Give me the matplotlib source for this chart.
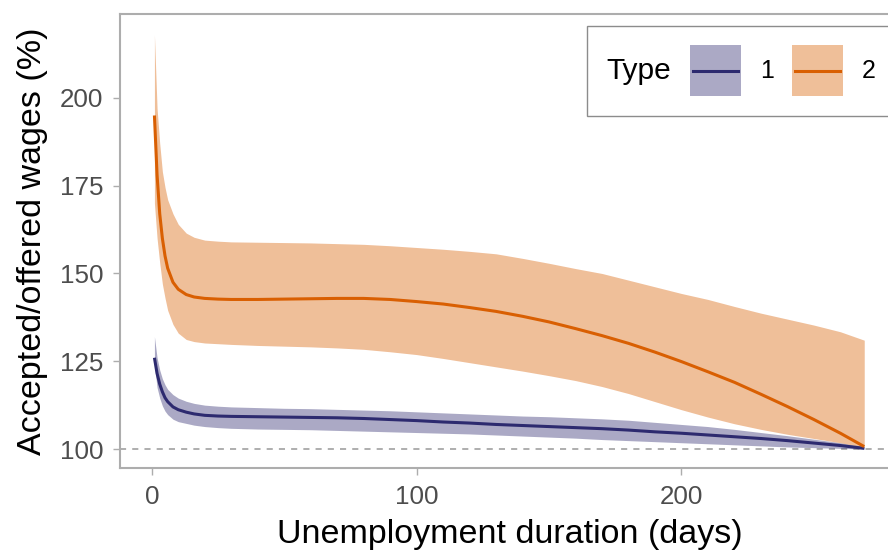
import matplotlib.pyplot as plt
from matplotlib.offsetbox import AnchoredOffsetbox, HPacker, TextArea, DrawingArea
from matplotlib.patches import Rectangle
from matplotlib.lines import Line2D

plt.rcParams['font.family'] = ['Liberation Sans', 'DejaVu Sans']

# Unemployment duration (days)
days = [1, 2, 3, 4, 5, 6, 8, 10, 13, 16, 20, 25, 30, 40, 50, 60, 70, 80, 90, 100,
        110, 120, 130, 140, 150, 160, 170, 180, 190, 200, 210, 220, 230, 240, 250, 260, 269]

# Type 1: mean and band
type1_mean = [126, 121.5, 118.5, 116.3, 114.6, 113.5, 112, 111.2, 110.5, 110, 109.6, 109.4,
              109.3, 109.2, 109.1, 109.0, 108.9, 108.7, 108.4, 108.1, 107.7, 107.4, 107.0,
              106.7, 106.4, 106.1, 105.8, 105.4, 104.9, 104.5, 104.0, 103.5, 103.0, 102.4,
              101.7, 101.0, 100.2]
type1_upper = [132, 126, 122.5, 120, 118.3, 117, 115.5, 114.5, 113.6, 113, 112.5, 112.2,
               112.0, 111.8, 111.6, 111.5, 111.3, 111.1, 110.9, 110.6, 110.3, 110.0, 109.7,
               109.4, 109.2, 108.9, 108.6, 108.2, 107.6, 107.0, 106.4, 105.6, 104.7, 103.8,
               102.8, 101.8, 100.6]
type1_lower = [124, 117.5, 114.5, 112.3, 110.8, 109.8, 108.5, 107.8, 107.3, 106.8, 106.4,
               106.1, 105.9, 105.7, 105.6, 105.5, 105.3, 105.1, 104.9, 104.7, 104.5, 104.3,
               104.0, 103.7, 103.4, 103.1, 102.7, 102.4, 102.1, 101.8, 101.5, 101.2, 100.9,
               100.6, 100.4, 100.2, 100.0]

# Type 2: mean and band
type2_mean = [195, 178, 167, 160, 155, 151.5, 147.5, 145.5, 144, 143.3, 142.9, 142.7, 142.6,
              142.6, 142.7, 142.8, 142.9, 142.9, 142.6, 142.0, 141.3, 140.3, 139.2, 137.8,
              136.2, 134.3, 132.3, 130.1, 127.6, 124.9, 122.0, 119.0, 115.6, 112.1, 108.4,
              104.5, 100.7]
type2_upper = [218, 197, 187, 179, 174.5, 171, 167, 164, 161.5, 160.3, 159.5, 159.2, 159,
               158.9, 158.8, 158.7, 158.5, 158.3, 157.9, 157.4, 156.9, 156.3, 155.6, 154.3,
               152.9, 151.4, 150.0, 148.1, 146.2, 144.3, 142.6, 140.6, 138.7, 137.0, 135.3,
               133.4, 131.0]
type2_lower = [170, 160, 153, 147, 143, 139.5, 135.5, 133, 131.2, 130.6, 130.2, 130, 129.8,
               129.5, 129.3, 129.1, 128.8, 128.4, 127.7, 126.9, 125.8, 124.6, 123.4, 122.2,
               120.9, 119.5, 117.8, 115.8, 113.5, 111.2, 109.1, 107.2, 105.6, 104.2, 103.0,
               101.8, 100.5]

type_labels = ['1', '2']
colors = ['#2D2A6F', '#D95F02']
fill_alpha = 0.4

fig = plt.figure(figsize=(8.88, 5.52), dpi=100)
ax = fig.add_axes([120 / 888, 84 / 552, 780 / 888, 454 / 552])

ax.axhline(100, color='#999999', lw=1.1, ls=(0, (4, 4)), zorder=1)

series = [(type1_mean, type1_upper, type1_lower), (type2_mean, type2_upper, type2_lower)]
for (mean, up, lo), col in zip(series, colors):
    ax.fill_between(days, lo, up, color=col, alpha=fill_alpha, lw=0, zorder=2)
for (mean, up, lo), col in zip(series, colors):
    ax.plot(days, mean, color=col, lw=2.2, zorder=3, solid_capstyle='butt')

ax.set_xlim(-12, 282.5)
ax.set_ylim(94.6, 223.9)
ax.set_xticks([0, 100, 200])
ax.set_yticks([100, 125, 150, 175, 200])

for side in ['left', 'top', 'bottom']:
    ax.spines[side].set_color('#ADADAD')
    ax.spines[side].set_linewidth(1.5)
ax.spines['right'].set_visible(False)
ax.tick_params(colors='#ADADAD', labelcolor='#4D4D4D', labelsize=18.7,
               length=5, width=1, direction='out', pad=7.2)

ax.set_xlabel('Unemployment duration (days)', fontsize=24.5, labelpad=7)
ax.set_ylabel('Accepted/offered wages (%)', fontsize=24.5, labelpad=8.3)

# legend: title on the left, keys in a row
key = 36.7
items = [TextArea('Type', textprops=dict(size=21.5))]
for lab, col in zip(type_labels, colors):
    da = DrawingArea(key, key, 0, 0)
    da.add_artist(Rectangle((0, 0), key, key, facecolor=col, alpha=fill_alpha, lw=0))
    da.add_artist(Line2D([2, key - 2], [key / 2, key / 2], color=col, lw=2.2))
    items.append(da)
    items.append(TextArea(lab, textprops=dict(size=18)))
row = HPacker(children=items, align='center', pad=14, sep=13.5)
box = AnchoredOffsetbox(loc='upper left', child=row, pad=0, borderpad=0, frameon=True,
                        bbox_to_anchor=(587 / 888, 1 - 26 / 552),
                        bbox_transform=fig.transFigure)
box.patch.set_edgecolor('#8C8C8C')
box.patch.set_linewidth(1)
ax.add_artist(box)

fig.savefig('out.png', dpi=100)
